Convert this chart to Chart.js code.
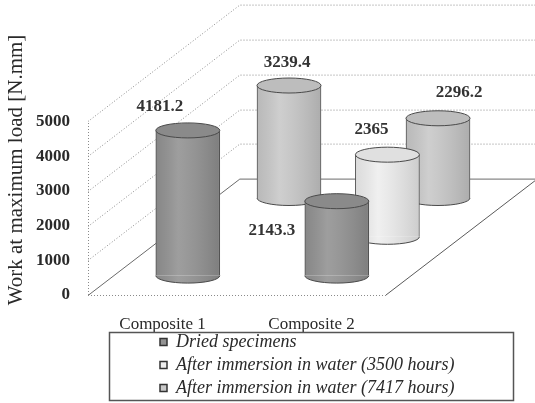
<!DOCTYPE html>
<html><head><meta charset="utf-8">
<script src="https://cdn.jsdelivr.net/npm/chart.js@4.4.1/dist/chart.umd.min.js"></script>
<style>html,body{margin:0;padding:0;background:#fff}</style>
</head><body>
<canvas id="c" width="535" height="403"></canvas>
<script>
// ---- data ----
const categories = ['Composite 1', 'Composite 2'];
const seriesNames = ['Dried specimens', 'After immersion in water (3500 hours)', 'After immersion in water (7417 hours)'];
const driedValues = [4181.2, 2143.3];
const water3500Values = [null, 2365];
const water7417Values = [3239.4, 2296.2];
const yTicks = [0, 1000, 2000, 3000, 4000, 5000];
const yTitle = 'Work at maximum load [N.mm]';

// ---- styles ----
const FONT = "'Liberation Serif', 'Times New Roman', serif";
const fills = ['#939393', '#eeeeee', '#c9c9c9'];
const edge = '#4a4a4a';
// label nudges (px) relative to a label centred above each cylinder
const labelNudge = [[[-28, 0], [-65, 53]], [[0, 0], [-16, -1]], [[-2, 1], [21, -2]]];
const DEPTH = {dx: 50.6, dy: 38.8, rows: 3, ry: 7.5};

const seriesValues = [driedValues, water3500Values, water7417Values];
const datasets = seriesValues.map((vals, i) => ({
  label: seriesNames[i],
  data: vals,
  backgroundColor: fills[i],
  borderColor: edge,
  borderWidth: {left: 1, right: 1, top: 0, bottom: 0},
  borderSkipped: false,
  barThickness: 64,
  grouped: false,
  clip: false
}));

const wallsPlugin = {
  id: 'walls',
  beforeDatasetsDraw(chart) {
    const ctx = chart.ctx, {left, right} = chart.chartArea, ys = chart.scales.y;
    const Dx = DEPTH.dx * DEPTH.rows, Dy = DEPTH.dy * DEPTH.rows;
    const y0 = ys.getPixelForValue(0), yTop = ys.getPixelForValue(yTicks[yTicks.length - 1]);
    ctx.save();
    ctx.lineWidth = 1;
    yTicks.forEach(v => {
      const y = Math.round(ys.getPixelForValue(v)) + 0.5;
      ctx.beginPath();
      ctx.moveTo(left, y); ctx.lineTo(left + Dx, y - Dy); ctx.lineTo(right + Dx + 5, y - Dy);
      if (v === 0) { ctx.setLineDash([]); ctx.strokeStyle = '#6a6a6a'; }
      else { ctx.setLineDash([1, 2]); ctx.strokeStyle = '#8a8a8a'; }
      ctx.stroke();
    });
    // front-left vertical edge
    ctx.setLineDash([1, 2]); ctx.strokeStyle = '#8a8a8a';
    ctx.beginPath(); ctx.moveTo(left + 0.5, y0); ctx.lineTo(left + 0.5, yTop); ctx.stroke();
    // floor front edge
    ctx.beginPath(); ctx.moveTo(left, Math.round(y0) + 0.5); ctx.lineTo(right, Math.round(y0) + 0.5); ctx.stroke();
    // floor right edge
    ctx.setLineDash([]); ctx.strokeStyle = '#5a5a5a';
    ctx.beginPath(); ctx.moveTo(right, y0); ctx.lineTo(right + Dx, y0 - Dy); ctx.stroke();
    ctx.restore();
  }
};

const depthPlugin = {
  id: 'depth',
  beforeDatasetDraw(chart, args) {
    const k = args.index + 0.5;
    chart.ctx.save();
    chart.ctx.translate(DEPTH.dx * k, -DEPTH.dy * k);
  },
  afterDatasetDraw(chart, args) {
    const ctx = chart.ctx;
    const ds = chart.data.datasets[args.index];
    args.meta.data.forEach((el, i) => {
      if (ds.data[i] == null) return;
      const {x, y, base, width} = el.getProps(['x', 'y', 'base', 'width'], true);
      const rx = width / 2, ry = DEPTH.ry;
      const g = ctx.createLinearGradient(x - rx, 0, x + rx, 0);
      g.addColorStop(0, 'rgba(0,0,0,0.08)');
      g.addColorStop(0.35, 'rgba(255,255,255,0.10)');
      g.addColorStop(1, 'rgba(0,0,0,0.14)');
      ctx.fillStyle = g;
      ctx.fillRect(x - rx + 1, y, width - 2, base - y);
      ctx.beginPath();
      ctx.ellipse(x, base, rx, ry, 0, 0, Math.PI);
      ctx.fillStyle = ds.backgroundColor; ctx.fill();
      ctx.fillStyle = g; ctx.fill();
      ctx.strokeStyle = edge; ctx.lineWidth = 1; ctx.stroke();
      ctx.beginPath();
      ctx.ellipse(x, y, rx, ry, 0, 0, 2 * Math.PI);
      ctx.fillStyle = ds.backgroundColor; ctx.fill();
      ctx.fillStyle = 'rgba(0,0,0,0.06)'; ctx.fill();
      ctx.strokeStyle = edge; ctx.stroke();
    });
    ctx.restore();
  }
};

const labelPlugin = {
  id: 'valueLabels',
  afterDatasetsDraw(chart) {
    const ctx = chart.ctx;
    ctx.save();
    ctx.font = 'bold 17px ' + FONT;
    ctx.fillStyle = '#333';
    ctx.textAlign = 'center';
    ctx.textBaseline = 'middle';
    chart.data.datasets.forEach((ds, di) => {
      const meta = chart.getDatasetMeta(di);
      const k = di + 0.5;
      meta.data.forEach((el, i) => {
        if (ds.data[i] == null) return;
        const n = labelNudge[di][i];
        ctx.fillText(String(ds.data[i]), el.x + DEPTH.dx * k + n[0], el.y - DEPTH.dy * k - 24 + n[1]);
      });
    });
    ctx.restore();
  }
};

const legendPlace = {
  id: 'legendPlace',
  afterLayout(chart) {
    const lg = chart.legend;
    lg.left = 155; lg.right = 520; lg.width = 365; lg.top = 328;
  },
  afterDraw(chart) {
    const ctx = chart.ctx;
    ctx.save();
    ctx.strokeStyle = '#555'; ctx.lineWidth = 1.5;
    ctx.strokeRect(109.5, 332.5, 404, 68);
    ctx.restore();
  }
};

new Chart(document.getElementById('c'), {
  type: 'bar',
  data: {labels: categories, datasets},
  plugins: [wallsPlugin, depthPlugin, labelPlugin, legendPlace],
  options: {
    responsive: false,
    animation: false,
    devicePixelRatio: 1,
    layout: {padding: {left: 4, right: 149, top: 45, bottom: 0}},
    plugins: {
      tooltip: {enabled: false},
      legend: {
        position: 'bottom',
        align: 'start',
        maxHeight: 68,
        labels: {
          boxWidth: 7, boxHeight: 7, padding: 5,
          color: '#2a2a2a',
          font: {family: FONT, size: 18, style: 'italic'},
          generateLabels(chart) {
            return chart.data.datasets.map((ds, i) => ({
              text: ds.label, fillStyle: ds.backgroundColor, strokeStyle: '#333',
              lineWidth: 1.5, datasetIndex: i, hidden: false, fontColor: '#2a2a2a'
            }));
          }
        }
      }
    },
    scales: {
      x: {
        type: 'category', offset: true,
        grid: {display: false, drawTicks: false},
        border: {display: false},
        ticks: {color: '#2a2a2a', padding: 19, font: {family: FONT, size: 17}},
        afterFit(s) { s.height = 40; }
      },
      y: {
        min: 0, max: 7200,
        grid: {display: false, drawTicks: false},
        border: {display: false},
        afterBuildTicks(s) { s.ticks = yTicks.map(v => ({value: v})); },
        ticks: {color: '#2a2a2a', padding: 18, font: {family: FONT, size: 17, weight: 'bold'},
                callback: v => String(v)},
        title: {display: true, text: yTitle, color: '#2a2a2a', padding: {top: 0, bottom: 0},
                font: {family: FONT, size: 21}},
        afterFit(s) { s.width = 84; }
      }
    }
  }
});
</script>
</body></html>
